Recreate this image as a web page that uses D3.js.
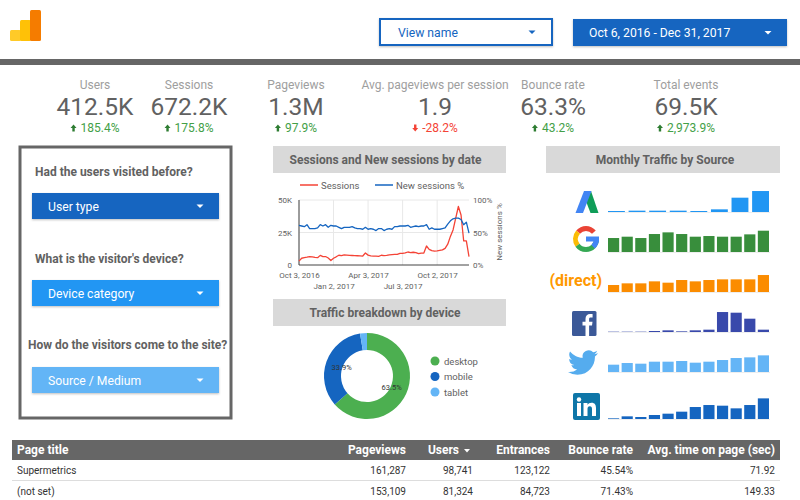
<!DOCTYPE html>
<html>
<head>
<meta charset="utf-8">
<script src="https://cdn.jsdelivr.net/npm/d3@7"></script>
<style>
  body { margin: 0; background: #fff; }
  svg { display: block; font-family: Roboto, sans-serif; }
</style>
</head>
<body>
<div id="viz"></div>
<script>
const kpiLabels = ['Users', 'Sessions', 'Pageviews', 'Avg. pageviews per session', 'Bounce rate', 'Total events'];
const kpiValues = ['412.5K', '672.2K', '1.3M', '1.9', '63.3%', '69.5K'];
const kpiDeltas = [185.4, 175.8, 97.9, -28.2, 43.2, 2973.9];
const kpiCenters = [95, 189, 296, 435, 553, 686];

// weekly
const sessions = [3.0, 5.2, 5.6, 6.0, 6.5, 6.3, 5.8, 5.6, 7.4, 6.4, 6.5, 5.4, 3.5, 5.2, 6.3, 7.5, 7.2, 7.7, 7.6, 7.4, 7.3, 7.2, 7.1, 7.0, 6.9, 9.2, 7.6, 7.0, 6.9, 6.8, 6.7, 7.5, 7.2, 7.4, 7.8, 8.0, 8.1, 8.2, 9.0, 8.9, 9.3, 10.0, 9.5, 9.8, 9.5, 8.7, 9.2, 9.2, 14.6, 12.0, 11.0, 10.6, 10.8, 11.2, 11.6, 12.8, 16, 22, 27, 36, 45, 38.5, 18.5, 18.5, 6.4];
const newSessions = [61, 60, 59, 62, 56, 56, 56, 57, 62, 60, 62, 58, 61, 60, 60, 58, 56, 58, 58, 58, 59, 57, 56, 56, 55, 58, 55, 56, 55, 53, 56, 56, 53, 55, 56, 55, 59, 59, 60, 60, 60, 61, 58, 59, 60, 59, 60, 60, 62, 55, 57, 55, 55, 55, 56, 57, 63, 68, 71, 72, 72, 70, 62, 66, 49];
const xTicks = ['2016-10-03', '2017-01-02', '2017-04-03', '2017-07-03', '2017-10-02'];

const deviceNames = ['desktop', 'mobile', 'tablet'];
const deviceShares = [63.5, 33.9, 2.6];
const deviceColors = ['#4caf50', '#1565c0', '#64b5f6'];

const adwordsBars = [3, 4, 4, 4, 3, 8, 43, 63];
const googleBars = [42, 46, 42, 54, 59, 54, 46, 48, 46, 46, 53, 64];
const directBars = [21, 26, 26, 32, 28, 36, 32, 36, 38, 38, 38, 51];
const facebookBars = [1, 1, 1, 3, 5, 2, 5, 7, 60, 58, 40, 7];
const twitterBars = [22, 27, 25, 31, 31, 33, 28, 31, 36, 42, 44, 50];
const linkedinBars = [2, 8, 6, 12, 16, 22, 36, 42, 40, 32, 42, 62];

const tableColumns = ['Page title', 'Pageviews', 'Users', 'Entrances', 'Bounce rate', 'Avg. time on page (sec)'];
const tableRows = [
  ['Supermetrics', '161,287', '98,741', '123,122', '45.54%', '71.92'],
  ['(not set)', '153,109', '81,324', '84,723', '71.43%', '149.33'],
];

const darkGray = '#666666';
const textGray = '#616161';
const blue = '#1565c0';
const midBlue = '#2196f3';
const lightBlue = '#64b5f6';

const svg = d3.select('#viz').append('svg')
  .attr('width', 800)
  .attr('height', 500);

const defs = svg.append('defs');
defs.append('filter')
  .attr('id', 'shadow')
  .attr('x', '-5%').attr('y', '-10%').attr('width', '110%').attr('height', '130%')
  .append('feDropShadow')
  .attr('dx', 0).attr('dy', 1).attr('stdDeviation', 1)
  .attr('flood-color', '#000').attr('flood-opacity', 0.25);

function dropdown(x, y, w, h, label, fill, color, textX, arrowX) {
  const g = svg.append('g');
  g.append('rect')
    .attr('x', x).attr('y', y).attr('width', w).attr('height', h)
    .attr('fill', fill)
    .attr('filter', 'url(#shadow)');
  g.append('text')
    .text(label)
    .attr('x', textX).attr('y', y + h / 2 + 4.5)
    .attr('fill', color)
    .style('font-size', '12.2px');
  g.append('path')
    .attr('d', `M${arrowX - 3.5},${y + h / 2 - 1.5}h7l-3.5,3.5z`)
    .attr('fill', color);
  return g;
}

function stripTitle(x, y, w, h, label, center) {
  svg.append('rect')
    .attr('x', x).attr('y', y).attr('width', w).attr('height', h)
    .attr('fill', '#d9d9d9');
  svg.append('text')
    .text(label)
    .attr('x', center).attr('y', y + h / 2 + 4)
    .attr('text-anchor', 'middle')
    .attr('fill', textGray)
    .style('font-size', '12px')
    .style('font-weight', 700);
}

// Header
svg.append('rect').attr('x', 10).attr('y', 30).attr('width', 11).attr('height', 11).attr('rx', 1.5).attr('fill', '#ffca28');
svg.append('rect').attr('x', 20).attr('y', 20).attr('width', 11).attr('height', 21).attr('rx', 1.5).attr('fill', '#ffc107');
svg.append('rect').attr('x', 30).attr('y', 10).attr('width', 11).attr('height', 31).attr('rx', 1.5).attr('fill', '#f57c00');

const viewBox = dropdown(380, 19, 172, 26, 'View name', '#fff', blue, 398, 532);
viewBox.select('rect')
  .attr('stroke', blue)
  .attr('stroke-width', 2);
dropdown(573, 19, 214, 27, 'Oct 6, 2016 - Dec 31, 2017', blue, '#fff', 589, 768);

svg.append('rect').attr('x', 0).attr('y', 59).attr('width', 800).attr('height', 6).attr('fill', darkGray);

// KPIs
const kpis = svg.selectAll('g.kpi')
  .data(kpiLabels)
  .enter()
  .append('g')
  .attr('class', 'kpi')
  .attr('transform', (d, i) => `translate(${kpiCenters[i]}, 0)`);

kpis.append('text')
  .text(d => d)
  .attr('y', 89)
  .attr('text-anchor', 'middle')
  .attr('fill', '#9e9e9e')
  .style('font-size', '12px');

kpis.append('text')
  .text((d, i) => kpiValues[i])
  .attr('y', 114.5)
  .attr('text-anchor', 'middle')
  .attr('fill', textGray)
  .style('font-size', '24.5px');

kpis.append('text')
  .text((d, i) => `${d3.format(',.1f')(kpiDeltas[i]).replace('\u2212', '-')}%`)
  .attr('x', 5)
  .attr('y', 132)
  .attr('text-anchor', 'middle')
  .attr('fill', (d, i) => (kpiDeltas[i] < 0 ? '#f44336' : '#43a047'))
  .style('font-size', '12px');

kpis.each(function (d, i) {
  const g = d3.select(this);
  const up = kpiDeltas[i] >= 0;
  const w = g.select('text:last-child').node().getComputedTextLength();
  const ax = 5 - w / 2 - 7;
  g.append('path')
    .attr('d', up
      ? `M${ax},124.5l3,3.5h-1.8v3.5h-2.4v-3.5h-1.8z`
      : `M${ax},131.5l3,-3.5h-1.8v-3.5h-2.4v3.5h-1.8z`)
    .attr('fill', up ? '#2e7d32' : '#f44336');
});

// Filter panel
svg.append('rect')
  .attr('x', 20).attr('y', 147).attr('width', 211).attr('height', 271)
  .attr('fill', '#fff')
  .attr('stroke', darkGray)
  .attr('stroke-width', 3);

const filterLabels = [
  { text: 'Had the users visited before?', x: 35, y: 176 },
  { text: "What is the visitor's device?", x: 35, y: 263 },
  { text: 'How do the visitors come to the site?', x: 28, y: 349 },
];
svg.selectAll('text.filter-label')
  .data(filterLabels)
  .enter()
  .append('text')
  .attr('class', 'filter-label')
  .text(d => d.text)
  .attr('x', d => d.x)
  .attr('y', d => d.y)
  .attr('fill', textGray)
  .style('font-size', '12px')
  .style('font-weight', 700);

dropdown(32, 193, 187, 26, 'User type', blue, '#fff', 48, 200);
dropdown(32, 280, 187, 26, 'Device category', midBlue, '#fff', 48, 200);
dropdown(32, 367, 187, 26, 'Source / Medium', lightBlue, '#fff', 48, 200);

// Sessions by date
stripTitle(273, 146, 233, 27, 'Sessions and New sessions by date', 385.5);

const weeks = sessions.map((d, i) => d3.timeDay.offset(new Date(2016, 9, 3), i * 7));
const tickDates = xTicks.map(d => d3.timeParse('%Y-%m-%d')(d));

const xScale = d3.scaleTime()
  .domain([weeks[0], weeks[weeks.length - 1]])
  .range([299, 469]);
const sessionScale = d3.scaleLinear().domain([0, 50]).range([265, 200]);
const percentScale = d3.scaleLinear().domain([0, 100]).range([265, 200]);

const lineChart = svg.append('g').attr('class', 'line-chart');

lineChart.selectAll('line.vgrid')
  .data(tickDates)
  .enter()
  .append('line')
  .attr('class', 'vgrid')
  .attr('x1', d => xScale(d)).attr('x2', d => xScale(d))
  .attr('y1', 200).attr('y2', 265)
  .attr('stroke', '#e8e8e8');

lineChart.selectAll('line.hgrid')
  .data([25, 50])
  .enter()
  .append('line')
  .attr('class', 'hgrid')
  .attr('x1', 299).attr('x2', 469)
  .attr('y1', d => sessionScale(d)).attr('y2', d => sessionScale(d))
  .attr('stroke', '#e8e8e8');

lineChart.append('line')
  .attr('x1', 299).attr('x2', 299).attr('y1', 200).attr('y2', 265)
  .attr('stroke', '#444');
lineChart.append('line')
  .attr('x1', 299).attr('x2', 469).attr('y1', 265).attr('y2', 265)
  .attr('stroke', '#444');

const leftAxis = lineChart.append('g')
  .attr('transform', 'translate(292, 0)')
  .call(d3.axisLeft(sessionScale).tickValues([0, 25, 50]).tickSize(0).tickPadding(0).tickFormat(d => (d ? `${d}K` : '0')));
const rightAxis = lineChart.append('g')
  .attr('transform', 'translate(473, 0)')
  .call(d3.axisRight(percentScale).tickValues([0, 50, 100]).tickSize(0).tickPadding(0).tickFormat(d => `${d}%`));
[leftAxis, rightAxis].forEach((a) => {
  a.select('.domain').remove();
  a.selectAll('text')
    .attr('fill', textGray)
    .style('font-family', 'Roboto, sans-serif')
    .style('font-size', '8px');
});

const bottomAxis = lineChart.append('g')
  .attr('transform', 'translate(0, 265)')
  .call(d3.axisBottom(xScale).tickValues(tickDates).tickSize(0).tickPadding(0).tickFormat(d3.timeFormat('%b %-d, %Y')));
bottomAxis.select('.domain').remove();
bottomAxis.selectAll('text')
  .attr('y', (d, i) => (i % 2 ? 18 : 7))
  .attr('fill', textGray)
  .style('font-family', 'Roboto, sans-serif')
  .style('font-size', '8px');

lineChart.append('path')
  .datum(sessions)
  .attr('fill', 'none')
  .attr('stroke', '#f44336')
  .attr('stroke-width', 1.3)
  .attr('stroke-linejoin', 'round')
  .attr('d', d3.line().x((d, i) => xScale(weeks[i])).y(d => sessionScale(d)));

lineChart.append('path')
  .datum(newSessions)
  .attr('fill', 'none')
  .attr('stroke', blue)
  .attr('stroke-width', 1.3)
  .attr('stroke-linejoin', 'round')
  .attr('d', d3.line().x((d, i) => xScale(weeks[i])).y(d => percentScale(d)));

lineChart.append('text')
  .text('New sessions %')
  .attr('transform', 'translate(502, 232) rotate(-90)')
  .attr('text-anchor', 'middle')
  .attr('fill', textGray)
  .style('font-size', '8px');

const lineLegend = [
  { name: 'Sessions', color: '#f44336', x: 300 },
  { name: 'New sessions %', color: blue, x: 375 },
];
lineChart.selectAll('line.legend')
  .data(lineLegend)
  .enter()
  .append('line')
  .attr('class', 'legend')
  .attr('x1', d => d.x).attr('x2', d => d.x + 18)
  .attr('y1', 185).attr('y2', 185)
  .attr('stroke', d => d.color)
  .attr('stroke-width', 1.5);
lineChart.selectAll('text.legend')
  .data(lineLegend)
  .enter()
  .append('text')
  .attr('class', 'legend')
  .text(d => d.name)
  .attr('x', d => d.x + 21)
  .attr('y', 188.5)
  .attr('fill', textGray)
  .style('font-size', '9.5px');

// Device donut
stripTitle(273, 299, 233, 27, 'Traffic breakdown by device', 385);

const pieData = d3.pie().sort(null)(deviceShares);
const donut = svg.append('g')
  .attr('transform', 'translate(367, 376)');
const arc = d3.arc().innerRadius(26).outerRadius(43);
const labelArc = d3.arc().innerRadius(27).outerRadius(27);

donut.selectAll('path')
  .data(pieData)
  .enter()
  .append('path')
  .attr('d', arc)
  .attr('fill', (d, i) => deviceColors[i]);

donut.selectAll('text')
  .data(pieData.slice(0, 2))
  .enter()
  .append('text')
  .text((d, i) => `${deviceShares[i]}%`)
  .attr('transform', d => `translate(${labelArc.centroid(d)})`)
  .attr('dy', '0.35em')
  .attr('text-anchor', 'middle')
  .attr('fill', '#333')
  .style('font-size', '7.5px');

const legendY = d3.scalePoint().domain(deviceNames).range([361, 392]);
svg.selectAll('circle.device')
  .data(deviceNames)
  .enter()
  .append('circle')
  .attr('class', 'device')
  .attr('cx', 435)
  .attr('cy', d => legendY(d))
  .attr('r', 4.5)
  .attr('fill', (d, i) => deviceColors[i]);
svg.selectAll('text.device')
  .data(deviceNames)
  .enter()
  .append('text')
  .attr('class', 'device')
  .text(d => d)
  .attr('x', 444)
  .attr('y', d => legendY(d) + 3.5)
  .attr('fill', textGray)
  .style('font-size', '9.5px');

// Monthly traffic sparks
stripTitle(546, 146, 234, 27, 'Monthly Traffic by Source', 665);

const barHeight = d3.scaleLinear().domain([0, 64]).range([0, 21.3]);
const sources = [
  { values: adwordsBars, color: midBlue, base: 212 },
  { values: googleBars, color: '#388e3c', base: 252 },
  { values: directBars, color: '#fb8c00', base: 292 },
  { values: facebookBars, color: '#3949ab', base: 332 },
  { values: twitterBars, color: lightBlue, base: 372 },
  { values: linkedinBars, color: blue, base: 419 },
];

sources.forEach((s) => {
  const x = d3.scaleBand()
    .domain(d3.range(s.values.length))
    .range([608, 769])
    .paddingInner(0.18);
  const g = svg.append('g').attr('class', 'spark');
  g.append('line')
    .attr('x1', 608).attr('x2', 770)
    .attr('y1', s.base + 0.5).attr('y2', s.base + 0.5)
    .attr('stroke', '#eeeeee');
  g.selectAll('rect')
    .data(s.values)
    .enter()
    .append('rect')
    .attr('x', (d, i) => x(i))
    .attr('y', d => s.base - barHeight(d))
    .attr('width', x.bandwidth())
    .attr('height', d => barHeight(d))
    .attr('fill', s.color);
});

// Source logos
const adwords = svg.append('g').attr('class', 'logo-adwords');
adwords.append('path').attr('d', 'M591,191L598.5,213H590.5L584,196z').attr('fill', '#0f9d58');
adwords.append('path').attr('d', 'M584,191H591.5L583,213H575.5z').attr('fill', '#4285f4');

const googleArc = d3.arc().innerRadius(8).outerRadius(13);
const googleLogo = svg.append('g').attr('transform', 'translate(586, 239)');
const googleParts = [
  { from: -0.85, to: 0.85, color: '#ea4335' },
  { from: -2.2, to: -0.85, color: '#fbbc05' },
  { from: -3.14, to: -2.2, color: '#34a853' },
  { from: 1.57, to: 3.14, color: '#34a853' },
  { from: 1.57, to: 2.4, color: '#4285f4' },
];
googleLogo.selectAll('path')
  .data(googleParts)
  .enter()
  .append('path')
  .attr('d', d => googleArc({ startAngle: d.from, endAngle: d.to }))
  .attr('fill', d => d.color);
googleLogo.append('rect')
  .attr('x', 0).attr('y', -2.5).attr('width', 13).attr('height', 5)
  .attr('fill', '#4285f4');

svg.append('text')
  .text('(direct)')
  .attr('x', 602).attr('y', 286)
  .attr('text-anchor', 'end')
  .attr('fill', '#ff9800')
  .style('font-size', '16px')
  .style('font-weight', 700);

svg.append('rect').attr('x', 572).attr('y', 311).attr('width', 24.5).attr('height', 25).attr('rx', 1.5).attr('fill', '#3b5998');
svg.append('path')
  .attr('d', 'M585.5,336v-10.5h-3v-3.8h3v-2.8c0,-3.2 2,-4.8 4.6,-4.8c1.2,0 2.2,0.1 2.5,0.1v3.3h-1.8c-1.4,0 -1.7,0.7 -1.7,1.7v2.5h3.4l-0.5,3.8h-2.9v10.5z')
  .attr('fill', '#fff');

svg.append('path')
  .attr('transform', 'translate(568, 347.5) scale(1.25)')
  .attr('d', 'M23.953 4.57a10 10 0 01-2.825.775 4.958 4.958 0 002.163-2.723c-.951.555-2.005.959-3.127 1.184a4.92 4.92 0 00-8.384 4.482C7.69 8.095 4.067 6.13 1.64 3.162a4.822 4.822 0 00-.666 2.475c0 1.71.87 3.213 2.188 4.096a4.904 4.904 0 01-2.228-.616v.06a4.923 4.923 0 003.946 4.827 4.996 4.996 0 01-2.212.085 4.936 4.936 0 004.604 3.417 9.867 9.867 0 01-6.102 2.105c-.39 0-.779-.023-1.17-.067a13.995 13.995 0 007.557 2.209c9.053 0 13.998-7.496 13.998-13.985 0-.21 0-.42-.015-.63A9.935 9.935 0 0024 4.59z')
  .attr('fill', '#55acee');

svg.append('rect').attr('x', 573).attr('y', 393).attr('width', 27).attr('height', 27).attr('rx', 2).attr('fill', '#0e76a8');
svg.append('circle').attr('cx', 579).attr('cy', 399.5).attr('r', 2.2).attr('fill', '#fff');
svg.append('rect').attr('x', 577).attr('y', 403).attr('width', 4).attr('height', 13).attr('fill', '#fff');
svg.append('path')
  .attr('d', 'M583.5,403h4v2c0.8,-1.4 2.2,-2.3 4,-2.3c3.4,0 4.5,2.1 4.5,5.3v8h-4v-7c0,-1.7 -0.5,-2.8 -2.2,-2.8c-1.7,0 -2.3,1.2 -2.3,2.8v7h-4z')
  .attr('fill', '#fff');

// Table
const columnRight = [null, 406, 473, 550, 633, 775];
const headerRight = [null, 406, 459, 550, 633, 775];

svg.append('rect').attr('x', 12).attr('y', 440).attr('width', 768).attr('height', 20).attr('fill', darkGray);
svg.append('line').attr('x1', 12).attr('x2', 780).attr('y1', 480.5).attr('y2', 480.5).attr('stroke', '#dddddd');

svg.selectAll('text.th')
  .data(tableColumns)
  .enter()
  .append('text')
  .attr('class', 'th')
  .text(d => d)
  .attr('x', (d, i) => (i ? headerRight[i] : 17))
  .attr('y', 454)
  .attr('text-anchor', (d, i) => (i ? 'end' : 'start'))
  .attr('fill', '#fff')
  .style('font-size', '12px')
  .style('font-weight', 700);
svg.append('path').attr('d', 'M464,449h6l-3,3.5z').attr('fill', '#fff');

tableRows.forEach((row, r) => {
  svg.selectAll(`text.row${r}`)
    .data(row)
    .enter()
    .append('text')
    .attr('class', `row${r}`)
    .text(d => d)
    .attr('x', (d, i) => (i ? columnRight[i] : 17))
    .attr('y', 473.5 + r * 21)
    .attr('text-anchor', (d, i) => (i ? 'end' : 'start'))
    .attr('fill', '#333')
    .style('font-size', '10px');
});
</script>
</body>
</html>
